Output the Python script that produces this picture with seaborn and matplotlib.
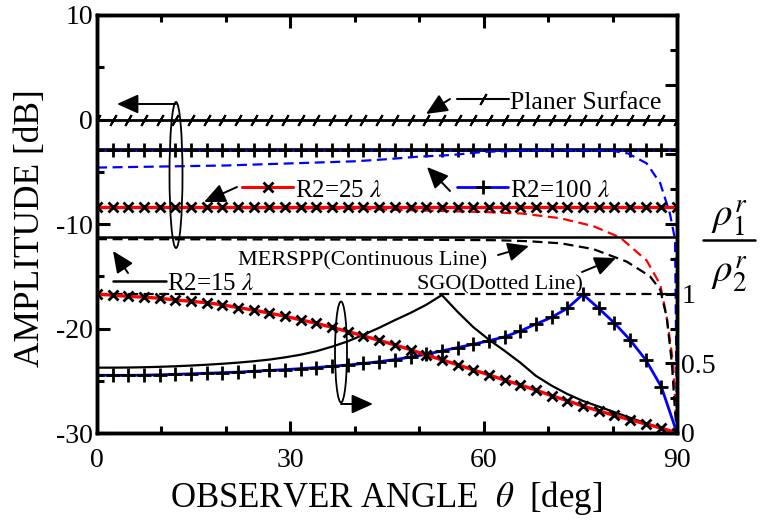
import numpy as np
import pandas as pd
import matplotlib
matplotlib.use('Agg')
import matplotlib.pyplot as plt
import seaborn as sns
from matplotlib.patches import Ellipse
from matplotlib.lines import Line2D
from matplotlib.ticker import MultipleLocator, FixedLocator, FuncFormatter

# ---------------- data ----------------
theta = [0.0, 2.43, 4.86, 7.30, 9.73, 12.16, 14.59, 17.03, 19.46, 21.89,
         24.32, 26.76, 29.19, 31.62, 34.05, 36.49, 38.92, 41.35, 43.78, 46.22,
         48.65, 51.08, 53.51, 55.95, 58.38, 60.81, 63.24, 65.68, 68.11, 70.54,
         72.97, 75.41, 77.84, 80.27, 82.70, 85.14, 87.57, 90.0]

# constant amplitude levels (dB), MERSPP continuous lines
planar_level = 0.0
r100_level = -2.95
r100_edge_level = -2.85
r25_level = -8.35
r15_level = -11.2

# SGO amplitudes (dB), dotted lines
theta_r100_sgo = [0, 10, 20, 30, 40, 45, 50, 55, 60, 65, 70, 75, 80, 82.4, 85.3, 87.4, 88.9, 89.7, 90]
amp_r100_sgo = [-4.6, -4.5, -4.4, -4.2, -4.0, -3.8, -3.55, -3.4, -3.1, -3.0, -2.95, -2.95, -3.0,
                -3.25, -4.2, -6.1, -9.0, -11.5, -30.0]
theta_r25_sgo = [0, 20, 40, 50, 60, 66, 71.9, 77, 81.2, 85.3, 87.4, 88.4, 89.4, 89.8, 90]
amp_r25_sgo = [-8.45, -8.45, -8.55, -8.7, -8.85, -9.0, -9.45, -10.2, -11.3, -13.5, -15.8, -18.9,
               -23.3, -28.0, -30.0]
theta_r15_sgo = [0, 50, 62, 67, 72, 77, 82.2, 85.8, 87.4, 88.4, 89.2, 89.7, 90]
amp_r15_sgo = [-11.45, -11.5, -11.55, -11.65, -11.85, -12.4, -13.6, -15.0, -16.3, -18.9, -23.3,
               -28.0, -30.0]

# curvature ratio rho1/rho2 (right axis)
ratio_sgo_level = 1.0
ratio_r25 = [0.995, 0.99, 0.98, 0.975, 0.967, 0.955, 0.945, 0.935, 0.92, 0.90,
             0.882, 0.86, 0.838, 0.812, 0.787, 0.758, 0.728, 0.697, 0.665, 0.632,
             0.598, 0.56, 0.525, 0.49, 0.453, 0.417, 0.38, 0.345, 0.308, 0.268,
             0.232, 0.193, 0.16, 0.126, 0.095, 0.065, 0.035, 0.0]
ratio_r100 = [0.414, 0.414, 0.414, 0.415, 0.418, 0.421, 0.425, 0.429, 0.433, 0.437,
              0.443, 0.449, 0.455, 0.462, 0.470, 0.479, 0.488, 0.499, 0.512, 0.527,
              0.545, 0.565, 0.589, 0.613, 0.637, 0.662, 0.690, 0.732, 0.782, 0.830,
              0.895, 0.995, 0.895, 0.790, 0.669, 0.526, 0.331, 0.0]
ratio_r15 = [0.469, 0.469, 0.470, 0.472, 0.475, 0.479, 0.484, 0.490, 0.497, 0.505,
             0.515, 0.527, 0.543, 0.562, 0.587, 0.620, 0.658, 0.705, 0.755, 0.810,
             0.862, 0.920, 0.990, 0.870, 0.760, 0.670, 0.590, 0.505, 0.410, 0.340,
             0.280, 0.230, 0.190, 0.150, 0.110, 0.070, 0.035, 0.0]

x_ticks_major = [0, 30, 60, 90]
y_ticks_major = [-30, -20, -10, 0, 10]
right_tick_labels = {0.0: '0', 0.5: '0.5', 1.0: '1'}

# ---------------- style ----------------
sns.set_theme(style='ticks')
plt.rcParams['font.family'] = ['Liberation Serif', 'DejaVu Serif']
plt.rcParams['mathtext.fontset'] = 'stix'
plt.rcParams['axes.unicode_minus'] = False
for k in ['text.color', 'axes.labelcolor', 'xtick.color', 'ytick.color', 'axes.edgecolor']:
    plt.rcParams[k] = 'black'

W, H = 764, 525
fig = plt.figure(figsize=(W / 100, H / 100), dpi=100)
ax = fig.add_axes([97 / W, 1 - 433 / H, 580 / W, 418 / H])
ax2 = ax.twinx()

n = len(theta)
dash = (0, (4.5, 2.5))

# ---- left axis: amplitude ----
sns.lineplot(x=theta, y=[planar_level] * n, ax=ax, color='black', lw=2.0,
             marker=(2, 2, -30), ms=9, mew=1.4, mec='black')
sns.lineplot(x=theta, y=[r100_edge_level] * n, ax=ax, color='black', lw=1.2)
sns.lineplot(x=theta, y=[r100_level] * n, ax=ax, color='blue', lw=2.0,
             marker='+', ms=10, mew=2.0, mec='black')
sns.lineplot(x=theta_r100_sgo, y=amp_r100_sgo, ax=ax, color='blue', lw=1.6, linestyle=dash)
sns.lineplot(x=theta_r25_sgo, y=amp_r25_sgo, ax=ax, color='red', lw=1.6, linestyle=dash)
sns.lineplot(x=theta, y=[r25_level] * n, ax=ax, color='red', lw=2.4,
             marker='x', ms=7, mew=2.0, mec='black')
sns.lineplot(x=theta, y=[r15_level] * n, ax=ax, color='black', lw=1.8)
sns.lineplot(x=theta_r15_sgo, y=amp_r15_sgo, ax=ax, color='black', lw=1.6, linestyle=dash)

# ---- right axis: curvature ratio ----
sns.lineplot(x=theta, y=[ratio_sgo_level] * n, ax=ax2, color='black', lw=1.6, linestyle=dash)
sns.lineplot(x=theta, y=ratio_r15, ax=ax2, color='black', lw=1.6)
sns.lineplot(x=theta, y=ratio_r100, ax=ax2, color='blue', lw=2.0,
             marker='+', ms=10, mew=2.0, mec='black')
sns.lineplot(x=theta, y=ratio_r25, ax=ax2, color='red', lw=2.4,
             marker='x', ms=7, mew=2.0, mec='black')

# ---- axes / ticks ----
ax.set_xlim(0, 90)
ax.set_ylim(-30, 10)
ax2.set_ylim(0, 3)
ax.xaxis.set_major_locator(FixedLocator(x_ticks_major))
ax.xaxis.set_minor_locator(MultipleLocator(10))
ax.yaxis.set_major_locator(FixedLocator(y_ticks_major))
ax.yaxis.set_minor_locator(MultipleLocator(5))
ax.yaxis.set_major_formatter(FuncFormatter(lambda v, p: '%d' % v))
ax2.yaxis.set_major_locator(MultipleLocator(0.5))
ax2.yaxis.set_minor_locator(MultipleLocator(0.25))
ax2.yaxis.set_major_formatter(FuncFormatter(lambda v, p: right_tick_labels.get(round(v, 2), '')))

ax.tick_params(axis='x', which='both', direction='in', top=True, bottom=True,
               labelsize=20, pad=11, width=2.2)
ax.tick_params(axis='y', which='both', direction='in', left=True, right=False,
               labelsize=20, pad=3, width=2.2)
ax2.tick_params(axis='y', which='both', direction='in', right=True, left=False,
                labelsize=20, pad=3, width=2.2)
for a in (ax, ax2):
    a.tick_params(which='major', length=9)
    a.tick_params(which='minor', length=5)
    for s in a.spines.values():
        s.set_linewidth(2.5)
        s.set_color('black')

ax.set_xlabel(r'OBSERVER ANGLE  $\theta$  [deg]', fontsize=25)
ax.xaxis.set_label_coords(0.499, -0.11)
ax.set_ylabel('AMPLITUDE [dB]', fontsize=25.5)
ax.yaxis.set_label_coords(-0.086, 0.49)
ax2.set_ylabel('')


# ---------------- annotations (figure pixel positions) ----------------
def P(x, y):
    return (x / W, 1 - y / H)


# right-axis label as a fraction
fig.text(*P(729, 218), r'$\rho_1^r$', ha='center', va='center', fontsize=28)
fig.add_artist(Line2D([703 / W, 755 / W], [1 - 240 / H] * 2, transform=fig.transFigure,
                      color='black', lw=1.8))
fig.text(*P(729, 274), r'$\rho_2^r$', ha='center', va='center', fontsize=28)

# ellipses
fig.add_artist(Ellipse(P(176, 175), 13 / W, 146 / H, transform=fig.transFigure,
                       fill=False, ec='black', lw=1.3))
fig.add_artist(Ellipse(P(341, 352), 12 / W, 101 / H, transform=fig.transFigure,
                       fill=False, ec='black', lw=1.3))

arrows = [((176, 104), (117, 104)), ((341, 404), (373, 404)),
          ((450, 99), (426, 114)), ((237, 187), (204, 202)),
          ((450, 191), (427, 167)), ((498, 255), (529, 246)),
          ((582, 272), (616, 258)), ((128, 273), (113, 251))]
for tail, tip in arrows:
    ax2.annotate('', xy=P(*tip), xycoords='figure fraction', xytext=P(*tail),
                 textcoords='figure fraction',
                 arrowprops=dict(arrowstyle='-|>,head_length=1.0,head_width=0.45',
                                 mutation_scale=13, color='black', lw=1.4,
                                 shrinkA=0, shrinkB=0))

# legend-like samples
def sample(x0, x1, y, color, lw, marker=None, ms=0, mew=0):
    fig.add_artist(Line2D([x0 / W, x1 / W], [1 - y / H] * 2, transform=fig.transFigure,
                          color=color, lw=lw))
    if marker is not None:
        xm = (x0 + x1) / 2
        fig.add_artist(Line2D([xm / W], [1 - y / H], transform=fig.transFigure,
                              color='black', marker=marker, ms=ms, mew=mew, ls='none'))


sample(457, 509, 99, 'black', 1.5, (2, 2, -30), 9, 1.4)
sample(242, 293, 187, 'red', 2.2, 'x', 7, 2.0)
sample(457, 508, 187, 'blue', 2.0, '+', 10, 2.0)
sample(113, 166, 281, 'black', 1.8)

fig.text(*P(510, 109), 'Planer Surface', fontsize=18.5, ha='left', va='baseline')
fig.text(*P(295, 197), r'R2=25 $\lambda$', fontsize=18, ha='left', va='baseline')
fig.text(*P(510, 197), r'R2=100 $\lambda$', fontsize=18, ha='left', va='baseline')
fig.text(*P(167, 290), r'R2=15 $\lambda$', fontsize=18, ha='left', va='baseline')
fig.text(*P(238, 265.5), 'MERSPP(Continuous Line)', fontsize=16, ha='left', va='baseline')
fig.text(*P(417, 289), 'SGO(Dotted Line)', fontsize=16, ha='left', va='baseline')

fig.savefig('out.png', dpi=100)
